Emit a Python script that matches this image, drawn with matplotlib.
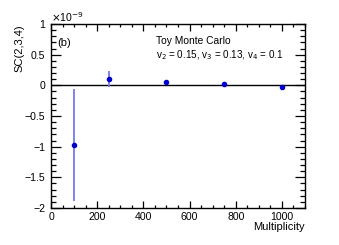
import matplotlib.pyplot as plt
from matplotlib.ticker import MultipleLocator
import numpy as np

plt.rcParams['font.family'] = ['Liberation Sans', 'DejaVu Sans']

# data (units of 1e-9)
mult = [100, 250, 500, 750, 1000]
sc = [-0.97, 0.11, 0.05, 0.02, -0.02]
sc_err = [0.91, 0.13, 0.02, 0.015, 0.01]

fig = plt.figure(figsize=(3.39, 2.45), dpi=100)
ax = fig.add_axes([51/339, 1-208/245, 254/339, 184/245])

ax.errorbar(mult, sc, yerr=sc_err, fmt='o', color='#0000cc', ms=3.0,
            ecolor='#7777ee', elinewidth=1.3, capsize=0, zorder=3)
ax.axhline(0, color='black', lw=1.0, zorder=2)

ax.set_xlim(0, 1100)
ax.set_ylim(-2, 1)
ax.xaxis.set_major_locator(MultipleLocator(200))
ax.xaxis.set_minor_locator(MultipleLocator(50))
ax.yaxis.set_minor_locator(MultipleLocator(0.1))
ax.set_yticks([-2, -1.5, -1, -0.5, 0, 0.5, 1])
ax.set_yticklabels(['\u22122', '\u22121.5', '\u22121', '\u22120.5', '0', '0.5', '1'])

ax.tick_params(which='both', direction='in', top=True, right=True,
               labelsize=7.6, width=0.9)
ax.tick_params(axis='x', which='both', pad=3)
ax.tick_params(axis='y', which='both', pad=4)
ax.tick_params(axis='x', which='major', length=5)
ax.tick_params(axis='x', which='minor', length=2.5)
ax.tick_params(axis='y', which='major', length=7)
ax.tick_params(axis='y', which='minor', length=3.5)
for s in ax.spines.values():
    s.set_linewidth(1.0)

ax.set_ylabel('SC(2,3,4)', fontsize=8, loc='top', labelpad=0)
ax.set_xlabel('Multiplicity', fontsize=8, loc='right', labelpad=0)

ax.text(0.0, 1.0, r'$\times$10$^{-9}$', transform=ax.transAxes,
        fontsize=7.6, ha='left', va='bottom')
ax.text(0.025, 0.895, '(b)', transform=ax.transAxes, fontsize=8, va='center')
ax.text(0.415, 0.905, 'Toy Monte Carlo', transform=ax.transAxes, fontsize=7.4, va='center')
ax.text(0.415, 0.83, r'v$_2$ = 0.15, v$_3$ = 0.13, v$_4$ = 0.1',
        transform=ax.transAxes, fontsize=7.1, va='center')

fig.savefig('out.png', dpi=100)
